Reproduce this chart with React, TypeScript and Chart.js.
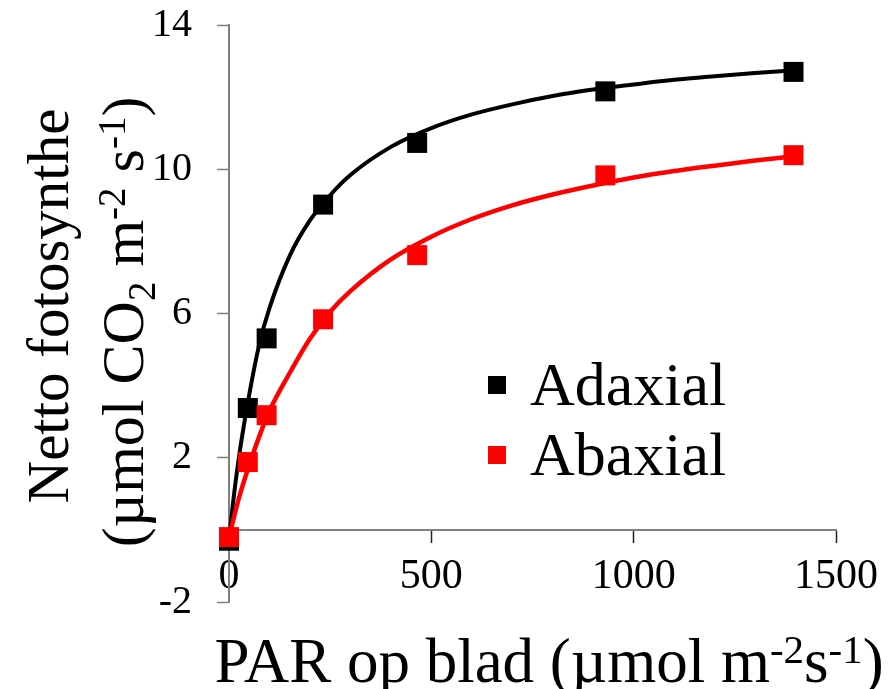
import React, { useEffect, useRef } from "react";
import { Chart, registerables } from "chart.js";

Chart.register(...registerables);

const FONT = '"Liberation Serif", "Times New Roman", Times, serif';

// Measured data (PAR in µmol m-2 s-1, net photosynthesis in µmol CO2 m-2 s-1)
const PAR = [0, 46.5, 93, 232.5, 465, 930, 1395];
const ADAXIAL = [-0.3, 3.38, 5.31, 9.02, 10.73, 12.16, 12.7];
const ABAXIAL = [-0.2, 1.88, 3.18, 5.84, 7.62, 9.83, 10.39];

// Fitted curves
const CURVE_PAR = [0, 10, 25, 50, 75, 100, 150, 200, 250, 300, 400, 500, 600, 700, 800, 900, 1000, 1100, 1200, 1300, 1395];
const ADAXIAL_CURVE = [-0.3, 0.75, 2.05, 3.75, 5.15, 6.15, 7.6, 8.58, 9.28, 9.84, 10.62, 11.14, 11.52, 11.8, 12.03, 12.21, 12.35, 12.48, 12.58, 12.67, 12.74];
const ABAXIAL_CURVE = [-0.2, 0.25, 0.9, 1.8, 2.6, 3.3, 4.35, 5.3, 6.05, 6.62, 7.5, 8.13, 8.62, 9.0, 9.3, 9.55, 9.77, 9.95, 10.1, 10.24, 10.36];

const SERIES_LABELS = ["Adaxial", "Abaxial"];
const SERIES_COLORS = ["#000000", "#ff0000"];

const X_MIN = 0;
const X_MAX = 1500;
const X_STEP = 500;
const Y_MIN = -2;
const Y_MAX = 14;
const Y_STEP = 4;

type Seg = { t: string; k?: "sup" | "sub" };
const X_TITLE: Seg[] = [{ t: "PAR op blad (µmol m" }, { t: "-2", k: "sup" }, { t: "s" }, { t: "-1", k: "sup" }, { t: ")" }];
const Y_TITLE_1: Seg[] = [{ t: "Netto fotosynthe" }];
const Y_TITLE_2: Seg[] = [
  { t: "(µmol CO" },
  { t: "2", k: "sub" },
  { t: " m" },
  { t: "-2", k: "sup" },
  { t: " s" },
  { t: "-1", k: "sup" },
  { t: ")" },
];

const toXY = (xs: number[], ys: number[]) => xs.map((x, i) => ({ x, y: ys[i] }));

function drawRich(ctx: CanvasRenderingContext2D, segs: Seg[], size: number, cx: number, baseY: number) {
  const small = size * 0.65;
  const fontOf = (s: Seg) => `${s.k ? small : size}px ${FONT}`;
  let total = 0;
  const widths = segs.map((s) => {
    ctx.font = fontOf(s);
    const w = ctx.measureText(s.t).width;
    total += w;
    return w;
  });
  let x = cx - total / 2;
  ctx.textAlign = "left";
  ctx.textBaseline = "alphabetic";
  ctx.fillStyle = "#000";
  segs.forEach((s, i) => {
    ctx.font = fontOf(s);
    const dy = s.k === "sup" ? -size * 0.3 : s.k === "sub" ? size * 0.2 : 0;
    ctx.fillText(s.t, x, baseY + dy);
    x += widths[i];
  });
}

const annotationPlugin = {
  id: "annotations",
  afterDraw(chart: any) {
    const ctx: CanvasRenderingContext2D = chart.ctx;
    ctx.save();
    // x axis title
    drawRich(ctx, X_TITLE, 63, 549, 682);
    // y axis title (two rotated lines)
    ctx.save();
    ctx.translate(68, 306);
    ctx.rotate(-Math.PI / 2);
    drawRich(ctx, Y_TITLE_1, 59, 0, 0);
    ctx.restore();
    ctx.save();
    ctx.translate(143, 322);
    ctx.rotate(-Math.PI / 2);
    drawRich(ctx, Y_TITLE_2, 60, 0, 0);
    ctx.restore();
    // legend, in series order
    SERIES_LABELS.forEach((name, i) => {
      const d = chart.data.datasets.find((ds: any) => ds.inLegend && ds.label === name);
      if (!d) return;
      const cy = 385 + i * 70;
      ctx.fillStyle = d.backgroundColor;
      ctx.fillRect(488, cy - 9, 18, 18);
      ctx.fillStyle = "#000";
      ctx.font = `62px ${FONT}`;
      ctx.textAlign = "left";
      ctx.textBaseline = "alphabetic";
      ctx.fillText(d.label, 530, cy + 20);
    });
    ctx.restore();
  },
};

export default function App() {
  const ref = useRef<HTMLCanvasElement>(null);
  useEffect(() => {
    document.body.style.margin = "0";
    const pointDs = (label: string, ys: number[], color: string) => ({
      label,
      inLegend: true,
      data: toXY(PAR, ys),
      showLine: false,
      backgroundColor: color,
      borderColor: color,
      pointStyle: "rect",
      pointRadius: 14.14,
      pointHoverRadius: 14.14,
      pointBorderWidth: 0,
      clip: false,
    });
    const curveDs = (label: string, ys: number[], color: string, w: number) => ({
      label: label + " fit",
      inLegend: false,
      data: toXY(CURVE_PAR, ys),
      showLine: true,
      borderColor: color,
      backgroundColor: color,
      borderWidth: w,
      pointRadius: 0,
      pointHoverRadius: 0,
      cubicInterpolationMode: "monotone",
      fill: false,
      clip: false,
    });
    const chart = new Chart(ref.current!, {
      type: "scatter",
      data: {
        // index 0 is drawn on top
        datasets: [
          pointDs(SERIES_LABELS[1], ABAXIAL, SERIES_COLORS[1]),
          curveDs(SERIES_LABELS[1], ABAXIAL_CURVE, SERIES_COLORS[1], 4.5),
          pointDs(SERIES_LABELS[0], ADAXIAL, SERIES_COLORS[0]),
          curveDs(SERIES_LABELS[0], ADAXIAL_CURVE, SERIES_COLORS[0], 4),
        ] as any,
      },
      options: {
        responsive: false,
        animation: false,
        layout: { padding: { left: 0, top: 25, right: 59, bottom: 87 } },
        plugins: {
          legend: { display: false },
          tooltip: { enabled: false },
          title: { display: false },
        },
        scales: {
          x: {
            type: "linear",
            position: { y: 0 } as any,
            min: X_MIN,
            max: X_MAX,
            ticks: {
              stepSize: X_STEP,
              color: "#000",
              font: { family: FONT, size: 42, lineHeight: 1 },
              padding: 14,
              maxRotation: 0,
              autoSkip: false,
              callback: (v: any) => String(v),
            },
            grid: {
              drawOnChartArea: false,
              drawTicks: true,
              tickLength: 12,
              tickColor: "#222",
              tickWidth: 1.5,
            },
            border: { display: true, color: "#808080", width: 2 },
            afterFit: (s: any) => {
              s.paddingLeft = 0;
              s.paddingRight = 0;
            },
          },
          y: {
            type: "linear",
            min: Y_MIN,
            max: Y_MAX,
            ticks: {
              stepSize: Y_STEP,
              color: "#000",
              font: { family: FONT, size: 40 },
              padding: 25,
              callback: (v: any) => String(v),
            },
            grid: {
              drawOnChartArea: false,
              drawTicks: true,
              tickLength: 12,
              tickColor: "#808080",
              tickWidth: 1.5,
            },
            border: { display: true, color: "#808080", width: 2 },
            afterFit: (s: any) => {
              s.width = 229;
              s.paddingTop = 0;
              s.paddingBottom = 0;
            },
          },
        },
      } as any,
      plugins: [annotationPlugin],
    });
    return () => chart.destroy();
  }, []);
  return (
    <div style={{ position: "fixed", left: 0, top: 0, width: 895, height: 689, background: "#fff" }}>
      <canvas ref={ref} width={895} height={689} style={{ width: 895, height: 689, display: "block" }} />
    </div>
  );
}
